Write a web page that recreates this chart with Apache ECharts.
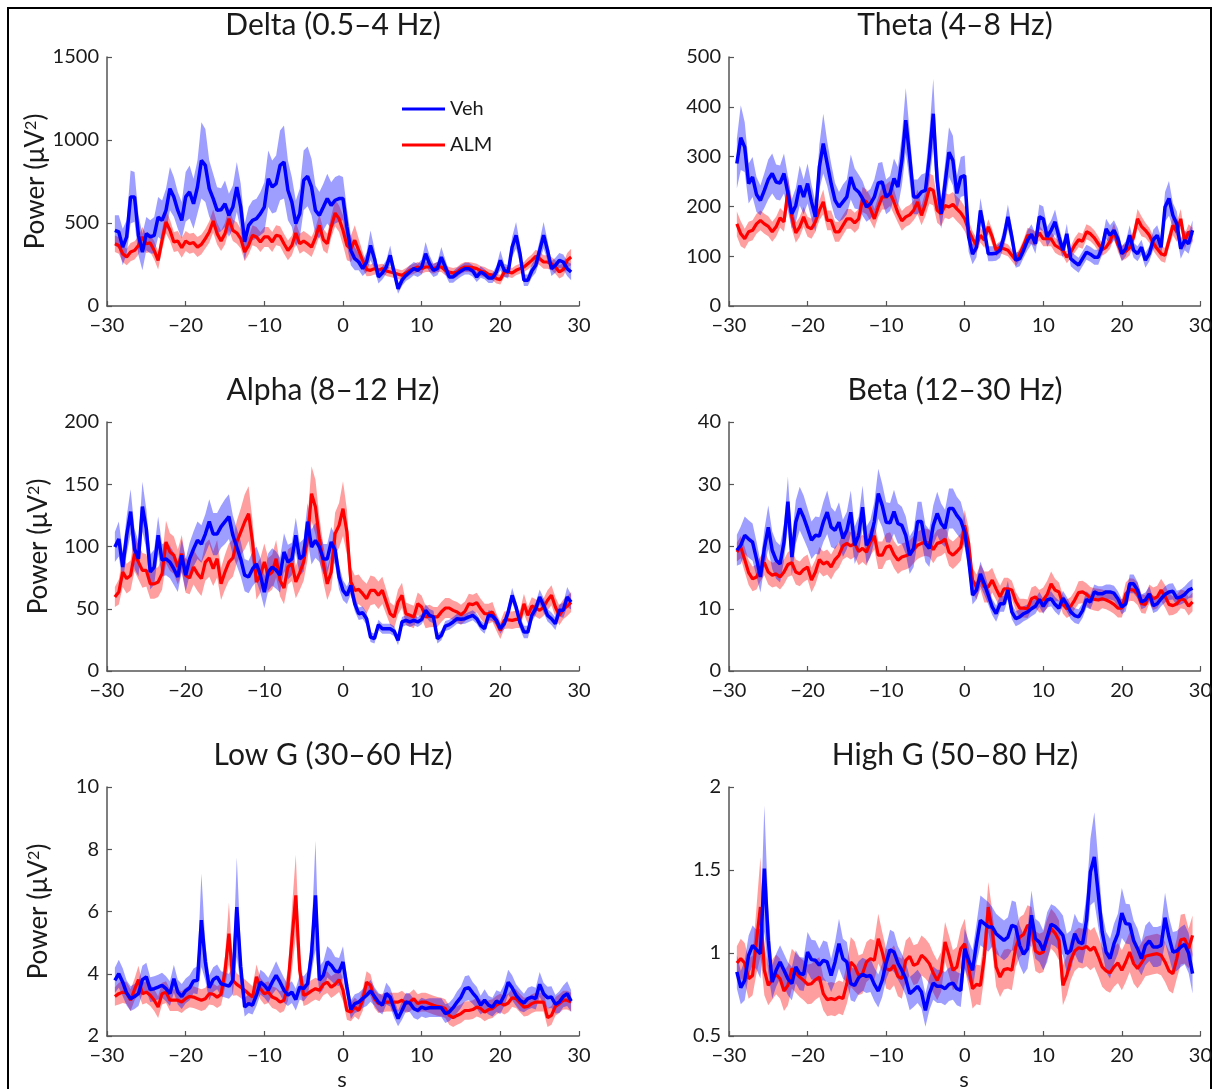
<!DOCTYPE html>
<html>
<head>
<meta charset="utf-8">
<script src="https://cdn.jsdelivr.net/npm/echarts@6/dist/echarts.min.js"></script>
<style>
  html, body { margin: 0; padding: 0; background: #fff; }
  #chart { width: 1215px; height: 1089px; }
</style>
</head>
<body>
<div id="chart"></div>
<script>
// Time base: bins every 0.5 s from -29 s to 29 s (117 bins)
const T0 = -29, DT = 0.5, N = 117;

const seriesNames = ['Veh', 'ALM'];
const panelTitles = ['Delta (0.5–4 Hz)', 'Theta (4–8 Hz)', 'Alpha (8–12 Hz)', 'Beta (12–30 Hz)', 'Low G (30–60 Hz)', 'High G (50–80 Hz)'];
const yRanges = [[0, 1500, 500], [0, 500, 100], [0, 200, 50], [0, 40, 10], [2, 10, 2], [0.5, 2, 0.5]];

// ---- Delta ----
const deltaVeh = [456,446,355,416,657,657,426,325,436,416, 426,536,516,576,707,657,576,516,657,687, 616,717,877,847,707,647,576,580,616,546, 596,717,596,386,486,516,526,556,596,767, 717,737,847,867,697,626,496,556,757,781, 717,576,546,596,647,606,637,647,647,476, 335,285,265,225,265,365,285,175,199,235, 305,205,104,155,185,205,225,215,235,315, 255,215,225,295,235,175,175,195,211,225, 225,211,175,205,191,169,169,205,275,215, 205,355,426,315,155,155,211,245,335,426, 335,225,245,275,265,225,205];
const deltaVehSem = [90,100,110,100,160,150,120,110,100,100, 110,120,120,130,130,120,110,110,150,160, 150,160,230,220,170,150,140,130,140,130, 130,150,140,110,110,120,120,130,150,170, 160,170,210,220,180,150,140,150,180,180, 170,150,140,140,150,140,140,140,130,110, 90,70,50,45,60,90,60,40,40,40, 60,40,30,35,35,40,40,40,45,70, 50,40,40,60,45,35,35,35,35,35, 35,35,30,35,30,30,30,35,60,40, 40,60,80,60,35,35,40,45,60,80, 60,45,45,45,45,45,50];
const deltaAlm = [375,365,315,295,325,335,365,416,375,380, 335,275,396,506,456,386,392,351,392,375, 382,355,371,406,446,512,436,392,436,526, 456,440,406,325,365,426,416,386,416,416, 386,426,420,375,335,365,440,375,392,375, 355,412,486,400,375,476,560,526,456,365, 345,396,335,275,219,215,225,215,225,211, 205,199,191,185,199,215,225,235,225,235, 235,225,235,235,215,205,199,205,225,235, 235,231,225,211,205,191,185,165,159,205, 205,199,215,225,235,255,275,299,285,265, 265,255,235,205,219,275,295];
const deltaAlmSem = [50,50,50,50,55,55,55,60,55,55, 55,55,60,70,65,60,60,60,60,60, 60,60,60,60,65,70,65,60,65,70, 65,65,60,55,55,60,60,60,60,60, 60,60,60,60,60,60,65,60,60,60, 60,60,65,65,60,65,80,80,90,90, 80,90,70,50,40,35,35,35,30,30, 30,30,30,30,30,30,30,30,30,30, 30,30,30,30,30,30,30,30,30,30, 30,30,30,30,30,30,30,30,30,30, 30,30,30,30,30,35,35,40,40,40, 40,40,40,40,40,45,50];

// ---- Theta ----
const thetaVeh = [286,338,319,246,259,224,212,232,254,266, 249,247,266,226,185,202,242,219,246,209, 179,279,326,286,246,212,199,209,219,259, 236,229,216,199,205,219,247,249,219,226, 256,239,292,373,299,219,219,229,232,299, 386,252,185,246,309,292,226,259,262,139, 104,118,192,152,105,105,106,112,139,179, 139,92,95,112,132,144,125,179,175,139, 152,169,139,112,145,95,88,82,95,108, 104,98,98,118,155,142,152,135,105,115, 142,112,105,118,92,105,133,142,118,199, 216,182,165,115,132,125,152];
const thetaVehSem = [50,65,50,40,40,35,30,35,40,40, 35,35,40,35,30,35,40,35,40,35, 30,45,60,45,40,35,30,35,35,45, 40,35,35,30,30,35,40,40,35,35, 40,40,50,65,50,35,35,35,35,50, 70,45,30,40,50,50,35,40,40,30, 20,20,25,20,15,15,15,15,20,25, 20,15,15,15,20,20,20,25,25,20, 20,25,20,15,20,15,15,15,15,15, 15,15,15,15,20,20,20,20,15,15, 20,15,15,15,15,15,20,20,20,30, 35,25,25,20,20,20,20];
const thetaAlm = [165,145,135,149,152,165,172,165,160,149, 159,177,169,232,179,147,159,179,159,155, 169,192,209,172,172,149,149,162,175,175, 167,175,214,209,195,175,199,219,219,226, 209,187,171,179,183,192,209,182,205,236, 232,192,185,202,199,204,195,187,175,152, 135,122,142,132,159,139,112,118,115,112, 102,92,104,122,142,139,135,147,135,135, 135,122,117,112,98,108,122,133,130,149, 145,137,125,113,118,130,151,124,106,110, 117,139,175,160,152,142,126,115,105,102, 132,162,149,175,129,149,142];
const thetaAlmSem = [25,25,20,20,20,20,20,20,20,20, 20,20,20,30,25,20,20,20,20,20, 20,20,25,20,20,20,20,20,20,20, 20,20,25,25,25,20,20,25,25,25, 25,20,20,20,20,20,25,20,25,30, 30,25,25,25,25,25,25,25,25,20, 15,15,15,15,15,15,12,12,12,12, 12,12,12,12,15,15,15,15,15,15, 15,15,15,12,12,12,15,15,15,15, 15,15,15,12,12,15,15,15,15,15, 15,15,20,20,15,15,15,15,15,15, 15,20,20,20,15,15,15];

// ---- Alpha ----
const alphaVeh = [99.6,106,83.5,109,128,98,90,132,114,79.5, 83.5,109,89,90,87.5,82,75.5,93,77,90, 98,105,102,110,120,110,110,116,120,124, 109,99.6,90,77,75.5,82,86,77,63.4,79.5, 83.5,81,77,95.6,87.5,90,109,90,93,120, 99.6,105,99.6,90,90,103.6,97,75.5,64.8,60.8, 68.8,54,46,46.8,42,27.3,26,37.2,34,34, 34,31.9,24.6,39.4,40.7,39.4,40.7,39.4,41.5,48.7, 44.7,43.4,26,28.6,36.1,37.2,39.4,42,41.5,42, 43.4,44.7,42,36.7,34,44.7,44.2,40.7,34,38, 47.4,60.8,51.4,38.8,31.3,31.3,44.7,50,59.4,52.7, 44.7,42,38,48.7,48.7,59.4,55.4];
const alphaVehSem = [12,14,12,15,18,16,14,20,16,14, 14,15,13,13,13,13,12,13,13,13, 14,15,15,16,18,17,17,17,18,18, 16,15,14,13,13,14,14,14,13,15, 15,15,14,15,14,13,14,13,13,15, 14,14,12,12,12,12,12,10,8,7, 7,6,5,5,5,4,4,4,4,4, 4,4,4,4,4,4,4,4,4,5, 5,5,4,4,4,4,4,4,4,4, 4,4,4,4,4,4,4,4,4,4, 5,6,5,5,5,5,5,5,6,6, 5,5,5,5,6,8,6];
const alphaAlm = [59.4,63.4,79.5,74.2,76.8,94.2,87.5,80.8,80.8,70, 70,71.5,78.2,103.6,95.6,93,83.5,94.2,76.8,74.7, 83.5,78.2,74.2,87.5,90.8,82.2,90.2,70,79.5,87.5, 90.8,103.6,111.6,119.7,126.4,103.6,71.5,76.8,87.5,76.8, 79.5,90.2,72.8,66.7,83.5,86.2,71.5,79,87.5,106.3, 142.4,131.7,106.3,86.2,70,79.5,110.3,117,130.4,111.6, 71.5,64.8,65.6,62.1,58.1,64.8,64.8,60.8,64.8,55.4, 46,43.4,55.4,60.8,46,44.7,43.4,54,51.4,43.4, 44.2,43.4,43.4,47.4,50.6,50.6,48.7,47.4,45.2,47.9, 54,53.3,54.9,50,46,46,47.4,39.4,32.7,40.7, 41.2,40.7,41.5,41.5,54,44.7,52.2,50.6,48.7,51.4, 56.8,60.8,51.4,44.7,49.5,52.2,55.4];
const alphaAlmSem = [8,10,12,12,12,14,14,14,13,12, 12,12,13,17,15,15,14,15,14,13, 14,14,14,15,15,14,15,13,14,15, 15,17,19,22,22,17,14,14,15,14, 14,15,13,13,14,14,13,14,15,17, 22,22,17,15,13,14,17,18,22,18, 12,12,12,11,12,12,11,11,11,10, 9,9,10,10,9,9,9,9,9,9, 9,8,8,8,8,8,8,8,8,8, 8,8,8,8,8,8,8,7,7,7, 7,7,7,7,8,7,7,7,7,7, 8,8,8,8,8,8,8];

// ---- Beta ----
const betaVeh = [19.4,20.2,21.8,21.2,20.7,18,15.1,19.7,23.1,19.4, 17.8,17.2,20.7,27.2,18.3,23.9,26.1,24.7,22.9,21, 21.8,21.7,23.9,25.5,23.1,22.6,23.9,21.3,22.6,25.5, 20.2,21.8,26.3,20.2,21.3,24,28.5,26.6,23.9,23.8, 25.6,23.7,23.4,21.8,18.6,19.7,24,24,20.5,19.7, 23.4,25.3,23.7,22.9,26.1,26.1,25,24.2,22.3,18, 12.2,13,15.6,14,12.2,10.3,9.2,10.8,10.8,13, 9.5,8.4,8.7,9.2,9.5,10,10.4,11.5,10.4,11.4, 11.6,10.7,10.1,11.7,10.7,9.5,8.9,8.7,9.7,11.5, 11.1,12.7,12.4,12.4,12.7,12.7,12.5,11.6,10.3,10.8, 14,14,13,11.1,11.4,12.4,10.5,10.8,11.6,12.3, 12.7,12.8,11.7,11.9,12.3,13,13.3];
const betaVehSem = [2.5,3,3,3,3,2.8,2.5,3,3.5,3, 3,3,3,4,3,3.5,3.5,3.5,3.2,3, 3,3,3.2,3.5,3.2,3,3.2,3,3,3.5, 3,3,3.5,3,3,3.2,4,3.5,3.2,3.2, 3.5,3.2,3,3,3,3,3.2,3.2,3,3, 3.2,3.5,3.2,3,3.2,3.2,3,3,2.5,2, 1.5,1.5,2,1.8,1.5,1.3,1.3,1.3,1.3,1.5, 1.2,1.2,1.2,1.2,1.2,1.2,1.2,1.2,1.2,1.2, 1.2,1.2,1.2,1.2,1.2,1.2,1.2,1.2,1.2,1.3, 1.2,1.2,1.2,1.2,1.2,1.2,1.2,1.2,1.2,1.2, 1.5,1.5,1.3,1.2,1.2,1.2,1.2,1.2,1.2,1.3, 1.3,1.3,1.2,1.2,1.3,1.3,1.5];
const betaAlm = [19.1,19.9,17.9,15.8,14.8,15.1,16.4,17.4,15.9,15.4, 15.6,15.1,15.9,17.1,17.4,15.9,15.6,16.3,16.7,14.6, 15.9,17.9,17.2,17.5,16.7,17.9,18.6,20.1,20.5,20.1, 20.5,19.2,19.7,19.1,20.7,21.7,18.6,18.6,19.9,20.1, 18.7,17.8,18.3,18.5,18.8,19.5,20.2,20.5,20.7,20.5, 19.5,20.5,20.7,21.2,19.1,18.6,19.2,19.9,23.4,20.5, 14.6,13.5,15.1,13.5,13.5,14.6,13.2,11.9,13.2,13.2, 13,11.2,10.1,10.1,10,11.6,11.9,11.2,11.4,12.3, 14,13,12.7,10.7,10,10.4,11.4,12.6,12.7,12.3, 11.7,11.5,11.4,11.6,11.4,11.1,10.7,10.1,10.1,12.4, 13.1,13,12.4,10.8,10.7,12.4,11.6,11.9,13,12, 10.7,10.5,10.8,11.6,11.4,10.4,11.1];
const betaAlmSem = [1.5,1.8,2,2,2,2,2,2,2,2, 2,2,2,2,2,2,2,2,2,2, 2,2,2,2,2,2,2,2.2,2.2,2.2, 2.2,2.2,2.2,2.2,2.2,2.2,2.2,2.2,2.2,2.2, 2.2,2.2,2.2,2.2,2.2,2.2,2.2,2.2,2.2,2.2, 2.2,2.2,2.2,2.2,2.2,2.2,2.2,2.2,2.5,2.5, 2,2,2,2.5,2.5,2,1.8,1.8,1.8,1.8, 1.5,1.5,1.5,1.5,1.5,1.8,1.8,1.8,2,2.2, 2,1.8,1.5,1.5,1.5,1.5,1.5,1.8,1.8,1.8, 1.8,1.8,1.8,1.5,1.5,1.5,1.5,1.5,1.5,1.8, 1.8,1.8,1.8,1.5,1.5,1.5,1.8,1.8,1.8,1.8, 1.8,1.5,1.5,1.5,1.5,1.5,1.5];

// ---- Low gamma ----
const lowGVeh = [3.79,4.0,3.73,3.38,3.2,3.27,3.36,3.81,3.9,3.49, 3.52,3.57,3.63,3.52,3.36,3.84,3.41,3.27,3.45,3.55, 3.77,3.79,5.72,4.38,3.55,3.81,3.9,3.68,3.64,3.6, 3.79,6.14,4.22,2.93,3.04,2.99,3.31,3.73,3.63,3.47, 3.73,3.95,3.73,3.47,3.31,3.41,3.17,3.57,3.52,3.68, 4.64,6.52,3.79,3.95,4.38,4.27,4.09,4.06,4.38,3.57, 2.85,3.04,3.09,3.2,3.31,3.45,3.27,3.09,2.99,3.36, 3.25,2.88,2.56,2.82,3.09,3.06,2.88,2.82,2.93,2.88, 2.91,2.91,2.91,2.91,2.72,2.77,2.91,3.09,3.25,3.52, 3.55,3.38,3.23,2.99,3.15,2.99,2.93,3.12,3.06,3.31, 3.73,3.55,3.31,3.15,3.06,3.2,3.25,3.2,3.66,3.36, 3.23,3.25,3.02,3.09,3.27,3.36,3.12];
const lowGVehSem = [0.4,0.45,0.45,0.4,0.4,0.4,0.4,0.45,0.45,0.4, 0.4,0.4,0.4,0.4,0.4,0.45,0.4,0.4,0.4,0.4, 0.4,0.45,1.5,0.6,0.4,0.4,0.4,0.4,0.4,0.4, 0.45,1.6,0.6,0.3,0.3,0.3,0.35,0.4,0.4,0.4, 0.4,0.45,0.4,0.4,0.35,0.35,0.35,0.4,0.4,0.4, 0.6,1.75,0.45,0.45,0.5,0.5,0.45,0.45,0.5,0.35, 0.3,0.3,0.3,0.3,0.35,0.35,0.3,0.3,0.3,0.35, 0.3,0.3,0.25,0.3,0.3,0.3,0.3,0.3,0.3,0.3, 0.3,0.3,0.3,0.3,0.3,0.3,0.3,0.35,0.35,0.4, 0.4,0.35,0.35,0.3,0.35,0.3,0.3,0.35,0.35,0.35, 0.4,0.4,0.35,0.35,0.3,0.35,0.35,0.35,0.4,0.35, 0.35,0.35,0.3,0.35,0.35,0.4,0.35];
const lowGAlm = [3.27,3.36,3.41,3.38,3.15,3.49,3.81,3.36,3.41,3.31, 3.15,2.93,3.36,3.41,3.15,3.15,3.15,3.09,3.2,3.27, 3.25,3.2,3.15,3.2,3.36,3.34,3.25,3.34,4.06,5.29, 3.79,3.66,3.57,3.47,3.36,3.25,3.9,3.52,3.36,3.41, 3.25,3.2,3.09,3.15,3.63,5.07,6.52,4.11,3.31,3.36, 3.45,3.52,3.47,3.66,3.73,3.57,3.66,3.81,3.47,2.82, 2.77,2.93,2.82,3.15,3.73,3.63,3.2,3.04,3.06,3.09, 3.09,3.09,3.09,3.15,3.04,3.09,3.2,3.04,3.09,3.09, 3.04,2.99,2.95,2.93,2.88,2.66,2.59,2.66,2.72,2.82, 2.82,2.85,2.93,2.88,2.77,2.85,2.88,2.99,3.06,2.99, 3.06,3.23,3.2,3.06,2.93,2.95,3.04,3.09,3.09,3.09, 2.59,2.66,2.95,3.04,3.15,3.15,3.09];
const lowGAlmSem = [0.3,0.35,0.35,0.35,0.35,0.35,0.45,0.35,0.35,0.35, 0.35,0.35,0.35,0.35,0.35,0.35,0.35,0.35,0.35,0.35, 0.35,0.35,0.35,0.35,0.35,0.35,0.35,0.35,0.5,1.0, 0.5,0.35,0.35,0.35,0.35,0.35,0.4,0.35,0.35,0.35, 0.35,0.35,0.35,0.35,0.5,1.0,1.3,0.6,0.35,0.35, 0.35,0.35,0.35,0.35,0.35,0.35,0.35,0.4,0.35,0.3, 0.3,0.3,0.3,0.35,0.35,0.35,0.3,0.3,0.3,0.3, 0.3,0.3,0.3,0.3,0.3,0.3,0.3,0.3,0.3,0.3, 0.3,0.3,0.3,0.3,0.3,0.3,0.3,0.3,0.3,0.3, 0.3,0.3,0.3,0.3,0.3,0.3,0.3,0.3,0.3,0.3, 0.3,0.3,0.3,0.3,0.3,0.3,0.3,0.3,0.3,0.3, 0.3,0.3,0.3,0.3,0.3,0.3,0.3];

// ---- High gamma ----
const highGVeh = [0.886,0.791,0.835,0.986,1.046,1.02,0.996,1.508,1.076,0.825, 0.896,0.946,0.896,0.845,0.815,0.916,0.876,0.871,1.006,0.96, 0.956,0.926,0.956,0.946,0.865,0.946,1.056,0.966,0.946,0.815, 0.805,0.851,0.871,0.859,0.865,0.811,0.771,0.835,0.94,1.02, 1.006,0.94,0.896,0.845,0.755,0.775,0.799,0.765,0.655,0.755, 0.819,0.799,0.799,0.785,0.811,0.819,0.785,0.775,1.026,0.956, 0.896,1.056,1.197,1.177,1.157,1.157,1.116,1.096,1.076,1.096, 1.167,1.157,1.046,0.992,1.026,1.227,1.086,1.066,1.016,1.096, 1.173,1.161,1.137,1.106,0.996,1.016,1.116,1.066,1.056,1.197, 1.488,1.578,1.357,1.127,1.006,0.966,1.056,1.116,1.241,1.177, 1.173,1.076,1.026,0.966,1.046,1.072,1.036,1.036,1.046,1.213, 1.096,1.006,1.012,1.036,1.052,1.0,0.876];
const highGVehSem = [0.1,0.1,0.12,0.12,0.12,0.12,0.15,0.38,0.2,0.1, 0.1,0.1,0.1,0.1,0.1,0.1,0.1,0.1,0.12,0.12, 0.12,0.1,0.12,0.12,0.1,0.12,0.15,0.12,0.12,0.1, 0.1,0.1,0.1,0.1,0.1,0.1,0.1,0.1,0.1,0.12, 0.12,0.1,0.1,0.1,0.1,0.1,0.1,0.1,0.1,0.1, 0.1,0.1,0.1,0.1,0.1,0.1,0.1,0.1,0.12,0.12, 0.12,0.12,0.15,0.15,0.15,0.12,0.12,0.12,0.12,0.12, 0.15,0.15,0.12,0.12,0.12,0.15,0.12,0.12,0.12,0.15, 0.12,0.12,0.12,0.12,0.12,0.12,0.12,0.12,0.12,0.15, 0.2,0.27,0.2,0.12,0.12,0.12,0.12,0.12,0.15,0.12, 0.12,0.12,0.12,0.1,0.12,0.12,0.12,0.12,0.12,0.15, 0.12,0.12,0.12,0.12,0.12,0.12,0.12];
const highGAlm = [0.94,0.966,0.94,0.845,0.865,1.076,1.277,0.896,0.805,0.839, 0.871,0.845,0.771,0.805,0.906,0.88,0.855,0.835,0.811,0.815, 0.839,0.855,0.755,0.719,0.725,0.719,0.735,0.725,0.815,0.946, 0.92,0.865,0.876,0.946,0.966,0.956,1.086,1.006,0.906,0.896, 0.926,0.859,0.845,0.956,0.98,0.926,0.936,0.986,0.966,0.936, 0.88,0.835,0.886,1.066,0.986,0.896,0.916,1.026,1.056,0.916, 0.785,0.811,0.805,0.976,1.277,1.137,0.916,0.855,0.9,0.906, 0.896,1.036,1.096,1.112,1.167,1.157,1.012,0.996,1.006,1.086, 1.147,1.12,1.076,0.805,0.865,0.956,1.012,1.032,1.026,1.04, 1.016,1.036,0.98,0.916,0.892,0.88,0.916,0.94,0.896,0.946, 1.006,0.936,0.906,0.94,0.98,0.986,0.992,0.996,0.986,0.946, 0.892,0.876,0.966,1.08,1.086,1.026,1.106];
const highGAlmSem = [0.1,0.12,0.12,0.12,0.12,0.2,0.3,0.15,0.12,0.12, 0.12,0.12,0.12,0.12,0.12,0.12,0.12,0.12,0.12,0.12, 0.12,0.12,0.1,0.1,0.1,0.1,0.1,0.1,0.12,0.15, 0.15,0.12,0.12,0.12,0.12,0.12,0.15,0.12,0.12,0.12, 0.12,0.12,0.12,0.12,0.12,0.12,0.12,0.12,0.12,0.12, 0.12,0.12,0.12,0.12,0.12,0.12,0.12,0.12,0.15,0.12, 0.12,0.12,0.12,0.12,0.15,0.12,0.12,0.12,0.12,0.12, 0.12,0.12,0.12,0.12,0.12,0.12,0.12,0.12,0.12,0.12, 0.12,0.12,0.12,0.12,0.12,0.12,0.12,0.12,0.12,0.12, 0.12,0.12,0.12,0.12,0.12,0.12,0.12,0.12,0.12,0.12, 0.12,0.12,0.12,0.12,0.12,0.12,0.12,0.12,0.12,0.12, 0.12,0.12,0.12,0.15,0.15,0.12,0.12];

const panelData = [
  [deltaVeh, deltaVehSem, deltaAlm, deltaAlmSem],
  [thetaVeh, thetaVehSem, thetaAlm, thetaAlmSem],
  [alphaVeh, alphaVehSem, alphaAlm, alphaAlmSem],
  [betaVeh, betaVehSem, betaAlm, betaAlmSem],
  [lowGVeh, lowGVehSem, lowGAlm, lowGAlmSem],
  [highGVeh, highGVehSem, highGAlm, highGAlmSem]
];

// ---- layout & style ----
const FONT = 'Lato, "Open Sans", sans-serif';
const AXIS_COLOR = '#555';
const TEXT_COLOR = '#1a1a1a';
const COLORS = { veh: '#0000ff', alm: '#ff0000', vehBand: 'rgba(0,0,255,0.38)', almBand: 'rgba(255,0,0,0.38)' };
const gridPos = [[107, 57], [729, 57], [107, 422], [729, 422], [107, 787], [729, 787]];
const GRID_W = 472, GRID_H = 249;

const time = [];
for (let i = 0; i < N; i++) time.push(T0 + i * DT);

const fmtNum = v => (v < 0 ? '\u2212' + Math.abs(v) : String(v));

const grids = [], xAxes = [], yAxes = [], series = [], graphics = [];

// Mean ± SEM band as one filled polygon, placed through the axis scales
function bandSeries(p, mean, sem, color) {
  const lo = mean.map((m, i) => m - sem[i]);
  const hi = mean.map((m, i) => m + sem[i]);
  return {
    type: 'custom', xAxisIndex: p, yAxisIndex: p, silent: true, z: 1,
    data: time.map((t, i) => [t, lo[i], hi[i]]),
    encode: { x: 0, y: [1, 2] },
    renderItem: (params, api) => {
      if (params.dataIndex !== 0) return null;
      const pts = [];
      for (let i = 0; i < time.length; i++) pts.push(api.coord([time[i], lo[i]]));
      for (let i = time.length - 1; i >= 0; i--) pts.push(api.coord([time[i], hi[i]]));
      return { type: 'polygon', shape: { points: pts }, style: { fill: color } };
    }
  };
}

panelData.forEach((pd, p) => {
  const [left, top] = gridPos[p];
  grids.push({ left, top, width: GRID_W, height: GRID_H, containLabel: false });
  const isLeft = p % 2 === 0;
  const isBottom = p >= 4;
  xAxes.push({
    type: 'value', gridIndex: p, min: -30, max: 30, interval: 10,
    axisLine: { show: true, onZero: false, lineStyle: { color: AXIS_COLOR, width: 1.5 } },
    axisTick: { show: true, inside: true, length: 5, lineStyle: { color: AXIS_COLOR, width: 1.2 } },
    axisLabel: { formatter: fmtNum, fontFamily: FONT, fontSize: 20, color: TEXT_COLOR, margin: 10 },
    splitLine: { show: false }
  });
  const [ymin, ymax, ystep] = yRanges[p];
  yAxes.push({
    type: 'value', gridIndex: p, min: ymin, max: ymax, interval: ystep,
    axisLine: { show: true, onZero: false, lineStyle: { color: AXIS_COLOR, width: 1.5 } },
    axisTick: { show: true, inside: true, length: 5, lineStyle: { color: AXIS_COLOR, width: 1.2 } },
    axisLabel: { formatter: v => String(v), fontFamily: FONT, fontSize: 20, color: TEXT_COLOR, margin: 8 },
    splitLine: { show: false },
    name: isLeft ? 'Power (\u03bcV{sup|2})' : '',
    nameLocation: 'middle', nameRotate: 90, nameGap: 55,
    nameTextStyle: {
      fontFamily: FONT, fontSize: 26, color: TEXT_COLOR,
      rich: { sup: { fontFamily: FONT, fontSize: 16, color: TEXT_COLOR, verticalAlign: 'top', padding: [0, 0, 10, 0] } }
    }
  });

  const [veh, vehSem, alm, almSem] = pd;
  series.push(bandSeries(p, alm, almSem, COLORS.almBand));
  series.push(bandSeries(p, veh, vehSem, COLORS.vehBand));
  series.push({
    type: 'line', name: 'ALM', xAxisIndex: p, yAxisIndex: p,
    data: time.map((t, i) => [t, alm[i]]),
    symbol: 'none', lineStyle: { color: COLORS.alm, width: 3.2 }, itemStyle: { color: COLORS.alm }, z: 3
  });
  series.push({
    type: 'line', name: 'Veh', xAxisIndex: p, yAxisIndex: p,
    data: time.map((t, i) => [t, veh[i]]),
    symbol: 'none', lineStyle: { color: COLORS.veh, width: 3.5 }, itemStyle: { color: COLORS.veh }, z: 4
  });

  // panel title
  graphics.push({
    type: 'text', x: left + GRID_W / 2 - 10, y: top - 32,
    style: { text: panelTitles[p], font: '30px ' + FONT, fill: TEXT_COLOR, align: 'center', verticalAlign: 'middle' }
  });
  if (isBottom) {
    graphics.push({
      type: 'text', x: left + GRID_W / 2 - 1, y: top + GRID_H + 44,
      style: { text: 's', font: '22px ' + FONT, fill: TEXT_COLOR, align: 'center', verticalAlign: 'middle' }
    });
  }
});

// figure frame
graphics.push({
  type: 'rect', shape: { x: 8, y: 8, width: 1203, height: 1100 },
  style: { fill: 'none', stroke: '#000', lineWidth: 2 }, silent: true
});

const chart = echarts.init(document.getElementById('chart'), null, { renderer: 'canvas' });
chart.setOption({
  animation: false,
  backgroundColor: '#fff',
  grid: grids,
  xAxis: xAxes,
  yAxis: yAxes,
  legend: {
    data: seriesNames.map(n => ({ name: n, icon: 'rect' })),
    orient: 'vertical', left: 397, top: 94, itemWidth: 43, itemHeight: 3, itemGap: 16,
    textStyle: { fontFamily: FONT, fontSize: 20, color: TEXT_COLOR, lineHeight: 20 },
    selectedMode: false
  },
  series,
  graphic: graphics
});
</script>
</body>
</html>
